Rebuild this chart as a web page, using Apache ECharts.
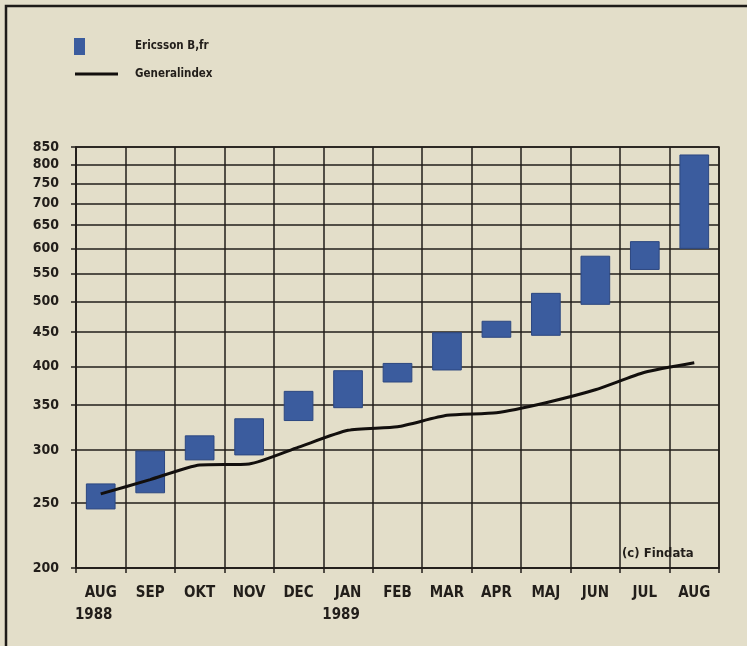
<!DOCTYPE html>
<html><head><meta charset="utf-8">
<script src="https://cdn.jsdelivr.net/npm/echarts@6/dist/echarts.min.js"></script>
<style>html,body{margin:0;padding:0;background:#e3dec9}#c{width:747px;height:646px}</style>
</head><body><div id="c"></div>
<script>
const months = ['AUG','SEP','OKT','NOV','DEC','JAN','FEB','MAR','APR','MAJ','JUN','JUL','AUG'];
const years = ['1988','','','','','1989','','','','','','',''];
const ericssonLow = [245,259,290,295,332,347,379,395,442,445,495,558,600];
const ericssonHigh = [267,299,315,334,367,394,404,449,467,514,584,614,827];
const generalindex = [258,271,285,286,303,321,325,338,341,353,369,392,405];
const yTicks = [200,250,300,350,400,450,500,550,600,650,700,750,800,850];

const FONT = "'Liberation Sans Narrow','DejaVu Sans Condensed','Liberation Sans',sans-serif";
const INK = '#221e1a';
const BAR = '#3b5c9e';

const chart = echarts.init(document.getElementById('c'));
const rangeData = months.map((m, i) => [i, ericssonLow[i], ericssonHigh[i]]);

chart.setOption({
  backgroundColor: '#e3dec9',
  animation: false,
  grid: {left: 76, top: 147, right: 28, bottom: 78, show: true, borderColor: INK, borderWidth: 1.5, backgroundColor: 'transparent'},
  legend: [
    {data: [{name: 'Ericsson B,fr', icon: 'rect'}], left: 69, top: 33, itemWidth: 11, itemHeight: 17, selectedMode: false,
     textStyle: {fontFamily: FONT, fontWeight: 'bold', fontSize: 11.5, color: INK, padding: [0, 0, 0, 45]}},
    {data: [{name: 'Generalindex', icon: 'rect'}], left: 70, top: 63, itemWidth: 43, itemHeight: 3, selectedMode: false,
     textStyle: {fontFamily: FONT, fontWeight: 'bold', fontSize: 11.5, color: INK, padding: [0, 0, 0, 12]}}
  ],
  xAxis: {
    type: 'category', data: months, boundaryGap: true,
    axisLine: {show: true, lineStyle: {color: INK, width: 1.5}},
    axisTick: {show: true, interval: 0, length: 5, lineStyle: {color: INK, width: 1.5}},
    splitLine: {show: true, interval: 0, lineStyle: {color: INK, width: 1.5}},
    axisLabel: {
      interval: 0, margin: 14,
      formatter: (v, i) => years[i] ? `{m|${v}}\n{y|${years[i]}}` : `{m|${v}}`,
      rich: {
        m: {fontFamily: FONT, fontWeight: 'bold', fontSize: 15, color: INK, lineHeight: 22},
        y: {fontFamily: FONT, fontWeight: 'bold', fontSize: 15, color: INK, lineHeight: 22, padding: [0, 14, 0, 0]}
      }
    }
  },
  yAxis: {
    type: 'log', min: 200, max: 850, logBase: 10,
    axisLine: {show: true, lineStyle: {color: INK, width: 1.5}},
    axisTick: {show: true, length: 5, customValues: yTicks, lineStyle: {color: INK, width: 1.5}},
    splitLine: {show: true, lineStyle: {color: INK, width: 1.5}},
    minorTick: {show: false}, minorSplitLine: {show: false},
    axisLabel: {customValues: yTicks, margin: 17, fontFamily: FONT, fontWeight: 'bold', fontSize: 14, color: INK, padding: [0, 0, 6, 0]}
  },
  series: [
    {
      name: 'Ericsson B,fr', type: 'custom', data: rangeData,
      encode: {x: 0, y: [1, 2]},
      itemStyle: {color: BAR},
      renderItem: (params, api) => {
        const x = api.value(0), lo = api.value(1), hi = api.value(2);
        const pTop = api.coord([x, hi]);
        const pBot = api.coord([x, lo]);
        const w = api.size([1, 0])[0] * 0.58;
        return {type: 'rect', shape: {x: pTop[0] - w / 2, y: pTop[1], width: w, height: pBot[1] - pTop[1]},
                style: {fill: BAR, stroke: '#2c4780', lineWidth: 1}};
      },
      z: 3
    },
    {
      name: 'Generalindex', type: 'line', data: generalindex, symbol: 'none', smooth: 0.2,
      lineStyle: {color: '#120f0d', width: 3}, itemStyle: {color: '#120f0d'}, z: 4
    }
  ],
  graphic: [
    {type: 'rect', shape: {x: 6, y: 6, width: 800, height: 700}, style: {fill: 'none', stroke: '#1e1b18', lineWidth: 2.5}, silent: true},
    {type: 'text', left: 622, top: 547, style: {text: '(c) Findata', fontFamily: FONT, fontWeight: 'bold', fontSize: 13, fill: INK}, z: 10}
  ]
});
</script></body></html>
